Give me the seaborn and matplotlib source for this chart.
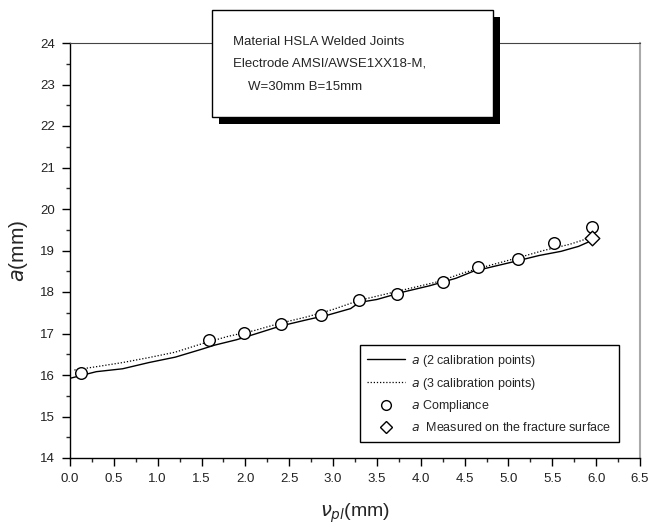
import numpy as np
import pandas as pd
import seaborn as sns
import matplotlib.pyplot as plt
from matplotlib.patches import Rectangle
from matplotlib.ticker import MultipleLocator, FormatStrFormatter
from matplotlib.lines import Line2D

# crack length a (mm) vs plastic displacement v_pl (mm)
x_two_cal = [0.0, 0.3, 0.6, 0.9, 1.2, 1.5, 1.65, 1.9, 2.1, 2.4, 2.7, 2.95, 3.2, 3.3,
             3.5, 3.8, 4.1, 4.4, 4.6, 4.8, 5.1, 5.35, 5.6, 5.8, 5.95]
a_two_cal = [15.92, 16.08, 16.15, 16.3, 16.43, 16.62, 16.72, 16.85, 16.98, 17.18, 17.33,
             17.45, 17.6, 17.75, 17.82, 18.0, 18.15, 18.33, 18.5, 18.6, 18.75, 18.88,
             18.98, 19.1, 19.24]

x_three_cal = [0.05, 0.3, 0.6, 0.9, 1.2, 1.5, 1.8, 2.1, 2.4, 2.7, 3.0, 3.3, 3.6, 3.9,
               4.2, 4.5, 4.8, 5.1, 5.4, 5.7, 5.95]
a_three_cal = [16.12, 16.2, 16.3, 16.42, 16.55, 16.75, 16.93, 17.07, 17.25, 17.4, 17.58,
               17.8, 17.95, 18.1, 18.25, 18.47, 18.65, 18.82, 19.0, 19.15, 19.32]

x_compliance = [0.12, 1.59, 1.98, 2.41, 2.86, 3.29, 3.73, 4.25, 4.65, 5.11, 5.52, 5.95]
a_compliance = [16.06, 16.84, 17.02, 17.22, 17.44, 17.81, 17.95, 18.25, 18.61, 18.79,
                19.17, 19.56]

x_measured = [5.95]
a_measured = [19.29]

sns.set_style('ticks')
plt.rcParams['font.family'] = ['Liberation Sans', 'DejaVu Sans']
plt.rcParams['mathtext.fontset'] = 'dejavusans'

fig = plt.figure(figsize=(6.52, 5.27), dpi=100)
ax = fig.add_axes([70 / 652, 1 - 458 / 527, 570 / 652, 415 / 527])

sns.lineplot(x=x_two_cal, y=a_two_cal, ax=ax, color='black', lw=1.0,
             sort=False, estimator=None)
sns.lineplot(x=x_three_cal, y=a_three_cal, ax=ax, color='black', lw=0.9,
             linestyle=(0, (1, 1.5)), sort=False, estimator=None)
sns.scatterplot(x=x_compliance, y=a_compliance, ax=ax, marker='o', s=70,
                facecolor='white', edgecolor='black', linewidth=1.0, zorder=5)
sns.scatterplot(x=x_measured, y=a_measured, ax=ax, marker='D', s=55,
                facecolor='white', edgecolor='black', linewidth=1.0, zorder=5)

ax.set_xlim(0, 6.5)
ax.set_ylim(14, 24)
ax.xaxis.set_major_locator(MultipleLocator(0.5))
ax.xaxis.set_minor_locator(MultipleLocator(0.25))
ax.xaxis.set_major_formatter(FormatStrFormatter('%.1f'))
ax.yaxis.set_major_locator(MultipleLocator(1))
ax.yaxis.set_minor_locator(MultipleLocator(0.5))
ax.tick_params(which='major', direction='out', length=6, width=1, labelsize=9.5,
               colors='black', labelcolor='#222222', pad=5)
ax.tick_params(which='minor', direction='out', length=3, width=1)

for side in ['left', 'bottom']:
    ax.spines[side].set_color('black')
    ax.spines[side].set_linewidth(1.0)
ax.spines['top'].set_color('#444444')
ax.spines['right'].set_color('#aaaaaa')
ax.spines['right'].set_linewidth(1.5)

ax.set_xlabel(r'$\nu_{pl}$(mm)', fontsize=14, labelpad=12)
ax.set_ylabel(r'$a$(mm)', fontsize=15, labelpad=7)

handles = [
    Line2D([], [], color='black', lw=1.0),
    Line2D([], [], color='black', lw=0.9, linestyle=(0, (1, 1.5))),
    Line2D([], [], color='black', marker='o', markerfacecolor='white', lw=0, markersize=7),
    Line2D([], [], color='black', marker='D', markerfacecolor='white', lw=0, markersize=6.5),
]
labels = [r'$a$ (2 calibration points)', r'$a$ (3 calibration points)',
          r'$a$ Compliance', r'$a$  Measured on the fracture surface']
leg = ax.legend(handles, labels, loc='lower right', fontsize=9,
                bbox_to_anchor=(625 / 652, 1 - 448 / 527), bbox_transform=fig.transFigure,
                frameon=True, fancybox=False, edgecolor='black', framealpha=1,
                handlelength=3.0, labelspacing=0.55, borderpad=0.6, handletextpad=0.5)
leg.get_frame().set_linewidth(1.0)

# annotation box with drop shadow
def fx(px):
    return px / 652

def fy(py):
    return 1 - py / 527

shadow = Rectangle((fx(219), fy(124)), fx(500) - fx(219), fy(17) - fy(124),
                   transform=fig.transFigure, facecolor='black', edgecolor='none', zorder=10)
box = Rectangle((fx(212), fy(117)), fx(493) - fx(212), fy(10) - fy(117),
                transform=fig.transFigure, facecolor='white', edgecolor='black', lw=1.0, zorder=11)
fig.add_artist(shadow)
fig.add_artist(box)
fig.text(fx(233), fy(42), 'Material HSLA Welded Joints', fontsize=9.5, va='center', zorder=12)
fig.text(fx(233), fy(64), 'Electrode AMSI/AWSE1XX18-M,', fontsize=9.5, va='center', zorder=12)
fig.text(fx(248), fy(87), 'W=30mm B=15mm', fontsize=9.5, va='center', zorder=12)

fig.savefig('out.png', dpi=100)
